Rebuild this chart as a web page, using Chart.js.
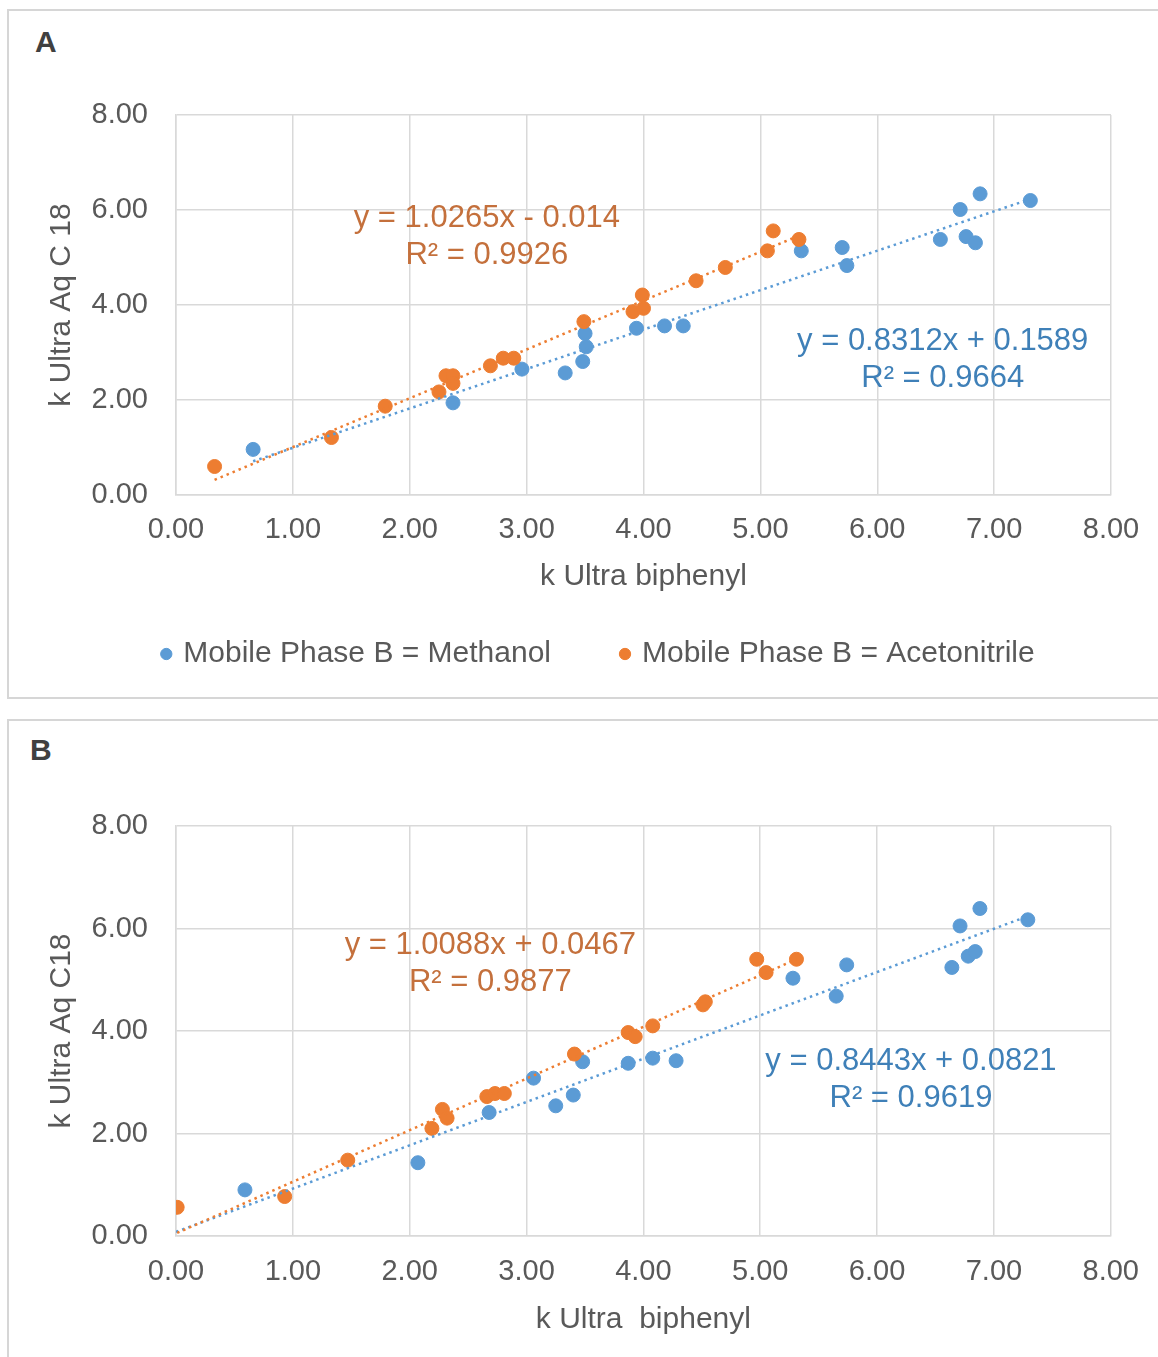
<!DOCTYPE html>
<html>
<head>
<meta charset="utf-8">
<script src="https://cdn.jsdelivr.net/npm/chart.js@4.4.1/dist/chart.umd.min.js"></script>
<style>
  body { margin: 0; background: #fff; width: 1158px; height: 1357px; overflow: hidden; position: relative; font-family: "Liberation Sans", Arial, sans-serif; }
  .panel { position: absolute; left: 7px; width: 1170px; border: 2px solid #d6d6d6; box-sizing: border-box; }
  #panelA { top: 9px; height: 690px; }
  #panelB { top: 719px; height: 660px; }
  .tag { position: absolute; font-weight: bold; font-size: 30px; line-height: 30px; color: #404040; }
  canvas { position: absolute; left: 0; }
</style>
</head>
<body>
<div class="panel" id="panelA"></div>
<div class="panel" id="panelB"></div>
<div class="tag" style="left:35px; top:27px;">A</div>
<div class="tag" style="left:30px; top:735px;">B</div>
<canvas id="chartA" width="1158" height="698" style="top:0; width:1158px; height:698px;"></canvas>
<canvas id="chartB" width="1158" height="637" style="top:720px; width:1158px; height:637px;"></canvas>
<script>
// Panel A: k values, methanol as mobile phase B
const kBiphenylMeOH_A = [0.66, 2.37, 2.96, 3.33, 3.48, 3.51, 3.50, 3.94, 4.18, 4.34, 5.35, 5.70, 5.74, 6.54, 6.71, 6.76, 6.84, 6.88, 7.31];
const kC18MeOH_A      = [0.96, 1.94, 2.65, 2.57, 2.81, 3.12, 3.40, 3.51, 3.56, 3.56, 5.14, 5.21, 4.83, 5.38, 6.01, 5.44, 5.31, 6.34, 6.20];
// Panel A: acetonitrile
const kBiphenylACN_A = [0.33, 1.33, 1.79, 2.25, 2.31, 2.37, 2.37, 2.69, 2.80, 2.89, 3.49, 3.91, 4.00, 3.99, 4.45, 4.70, 5.06, 5.11, 5.33];
const kC18ACN_A      = [0.60, 1.21, 1.87, 2.17, 2.51, 2.51, 2.35, 2.72, 2.88, 2.88, 3.65, 3.86, 3.93, 4.21, 4.51, 4.79, 5.14, 5.56, 5.38];

// Panel B
const kBiphenylMeOH_B = [0.59, 2.07, 2.68, 3.06, 3.25, 3.40, 3.48, 3.87, 4.08, 4.28, 5.28, 5.65, 5.74, 6.64, 6.71, 6.78, 6.84, 6.88, 7.29];
const kC18MeOH_B      = [0.90, 1.43, 2.41, 3.08, 2.54, 2.75, 3.40, 3.37, 3.47, 3.42, 5.03, 4.68, 5.29, 5.24, 6.05, 5.46, 5.55, 6.39, 6.17];
const kBiphenylACN_B = [0.01, 0.93, 1.47, 2.19, 2.28, 2.32, 2.66, 2.73, 2.81, 3.41, 3.87, 3.93, 4.08, 4.51, 4.53, 4.97, 5.05, 5.31];
const kC18ACN_B      = [0.56, 0.77, 1.48, 2.10, 2.47, 2.30, 2.72, 2.78, 2.78, 3.55, 3.97, 3.89, 4.10, 4.51, 4.57, 5.40, 5.14, 5.40];

// linear trendline ends (x, y) as drawn
const trendMeOH_A_x = [0.66, 7.31], trendMeOH_A_y = [0.71, 6.23];
const trendACN_A_x  = [0.33, 5.33], trendACN_A_y  = [0.32, 5.46];
const trendMeOH_B_x = [0.00, 7.29], trendMeOH_B_y = [0.08, 6.24];
const trendACN_B_x  = [0.01, 5.31], trendACN_B_y  = [0.06, 5.40];

const eqMeOH_A = ['y = 0.8312x + 0.1589', 'R² = 0.9664'];
const eqACN_A  = ['y = 1.0265x - 0.014', 'R² = 0.9926'];
const eqMeOH_B = ['y = 0.8443x + 0.0821', 'R² = 0.9619'];
const eqACN_B  = ['y = 1.0088x + 0.0467', 'R² = 0.9877'];

const seriesNames = ['Mobile Phase B = Methanol', 'Mobile Phase B = Acetonitrile'];

const BLUE = '#5b9bd5';
const ORANGE = '#ed7d31';
const GREY = '#595959';

Chart.defaults.font.family = '"Liberation Sans", Arial, sans-serif';

function zip(xs, ys) {
    return xs.map((x, i) => ({ x: x, y: ys[i] }));
}

const trendLabels = {
    id: 'trendLabels',
    afterDatasetsDraw(chart, args, opts) {
        const { ctx } = chart;
        const xs = chart.scales.x, ys = chart.scales.y;
        ctx.save();
        ctx.font = '31px "Liberation Sans", Arial, sans-serif';
        ctx.textAlign = 'center';
        ctx.textBaseline = 'middle';
        opts.items.forEach(item => {
            const px = xs.getPixelForValue(item.at[0]);
            const py = ys.getPixelForValue(item.at[1]);
            ctx.fillStyle = item.color;
            item.lines.forEach((line, i) => {
                ctx.fillText(line, px, py + (i - (item.lines.length - 1) / 2) * 37);
            });
        });
        ctx.restore();
    }
};

function makeChart(id, d) {
    const ctx = document.getElementById(id).getContext('2d');
    return new Chart(ctx, {
        type: 'scatter',
        data: {
            datasets: [
                {
                    label: seriesNames[0],
                    data: zip(d.meohX, d.meohY),
                    backgroundColor: BLUE,
                    borderColor: BLUE,
                    pointRadius: 7,
                    order: 3
                },
                {
                    label: seriesNames[1],
                    data: zip(d.acnX, d.acnY),
                    backgroundColor: ORANGE,
                    borderColor: ORANGE,
                    pointRadius: 7,
                    order: 2
                },
                {
                    label: 'trend1',
                    isTrend: true,
                    type: 'line',
                    data: zip(d.tMeohX, d.tMeohY),
                    borderColor: BLUE,
                    borderWidth: 2.5,
                    borderDash: [2.5, 4],
                    pointRadius: 0,
                    fill: false,
                    order: 1
                },
                {
                    label: 'trend2',
                    isTrend: true,
                    type: 'line',
                    data: zip(d.tAcnX, d.tAcnY),
                    borderColor: ORANGE,
                    borderWidth: 2.5,
                    borderDash: [2.5, 4],
                    pointRadius: 0,
                    fill: false,
                    order: 0
                }
            ]
        },
        options: {
            responsive: false,
            animation: false,
            layout: { padding: d.pad },
            plugins: {
                tooltip: { enabled: false },
                legend: {
                    display: d.legend,
                    position: 'bottom',
                    labels: {
                        usePointStyle: true,
                        pointStyle: 'circle',
                        boxWidth: 4,
                        boxHeight: 8,
                        padding: 72,
                        color: GREY,
                        font: { size: 30 },
                        filter: (item, data) => !data.datasets[item.datasetIndex].isTrend,
                        sort: (a, b) => a.datasetIndex - b.datasetIndex
                    }
                },
                trendLabels: { items: d.labels }
            },
            scales: {
                x: {
                    type: 'linear',
                    min: 0,
                    max: 8,
                    afterFit: s => { s.height = d.xHeight; },
                    ticks: {
                        stepSize: 1,
                        callback: v => v.toFixed(2),
                        color: GREY,
                        font: { size: 29 },
                        padding: d.xTickPad
                    },
                    grid: { color: '#d9d9d9', lineWidth: 1.5, drawTicks: false },
                    border: { color: '#d9d9d9', width: 1.5 },
                    title: {
                        display: true,
                        text: d.xTitle,
                        color: GREY,
                        font: { size: 30 },
                        padding: { top: 0, bottom: d.xTitlePad }
                    }
                },
                y: {
                    type: 'linear',
                    min: 0,
                    max: 8,
                    afterFit: s => { s.width = 88; },
                    ticks: {
                        stepSize: 2,
                        callback: v => v.toFixed(2),
                        color: GREY,
                        font: { size: 29 },
                        padding: 28
                    },
                    grid: { color: '#d9d9d9', lineWidth: 1.5, drawTicks: false },
                    border: { color: '#d9d9d9', width: 1.5 },
                    title: {
                        display: true,
                        text: d.yTitle,
                        color: GREY,
                        font: { size: 30 },
                        padding: { top: -44, bottom: 0 }
                    }
                }
            }
        },
        plugins: [trendLabels]
    });
}

makeChart('chartA', {
    meohX: kBiphenylMeOH_A, meohY: kC18MeOH_A,
    acnX: kBiphenylACN_A, acnY: kC18ACN_A,
    tMeohX: trendMeOH_A_x, tMeohY: trendMeOH_A_y,
    tAcnX: trendACN_A_x, tAcnY: trendACN_A_y,
    xTitle: 'k Ultra biphenyl',
    yTitle: 'k Ultra Aq C 18',
    legend: true,
    pad: { left: 88, right: 47, top: 115, bottom: 19 },
    xHeight: 72,
    xTickPad: 18,
    xTitlePad: -28,
    labels: [
        { lines: eqACN_A, at: [2.66, 5.44], color: '#c4703c' },
        { lines: eqMeOH_A, at: [6.56, 2.84], color: '#3f80b8' }
    ]
});

makeChart('chartB', {
    meohX: kBiphenylMeOH_B, meohY: kC18MeOH_B,
    acnX: kBiphenylACN_B, acnY: kC18ACN_B,
    tMeohX: trendMeOH_B_x, tMeohY: trendMeOH_B_y,
    tAcnX: trendACN_B_x, tAcnY: trendACN_B_y,
    xTitle: 'k Ultra  biphenyl',
    yTitle: 'k Ultra Aq C18',
    legend: false,
    pad: { left: 88, right: 47, top: 106, bottom: 0 },
    xHeight: 121,
    xTickPad: 19,
    xTitlePad: 19,
    labels: [
        { lines: eqACN_B, at: [2.69, 5.30], color: '#c4703c' },
        { lines: eqMeOH_B, at: [6.29, 3.04], color: '#3f80b8' }
    ]
});
</script>
</body>
</html>
